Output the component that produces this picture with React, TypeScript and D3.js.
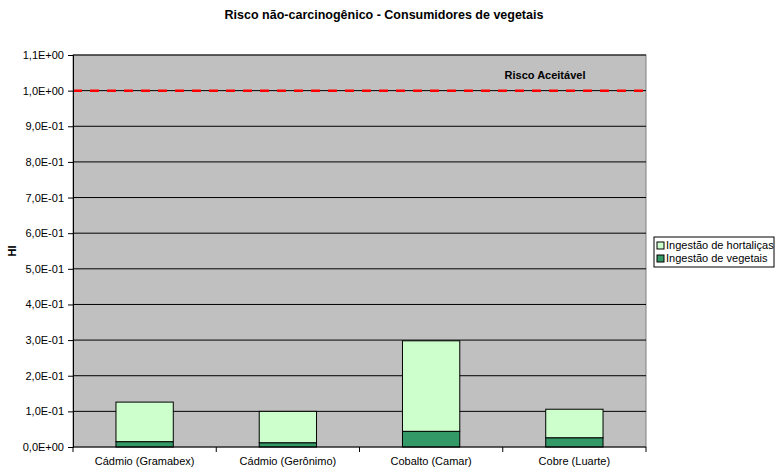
import { useRef, useEffect } from 'react'
import * as d3 from 'd3'

const categories = ['Cádmio (Gramabex)', 'Cádmio (Gerônimo)', 'Cobalto (Camar)', 'Cobre (Luarte)']
const vegetais = [0.015, 0.012, 0.044, 0.026]
const hortalicas = [0.111, 0.088, 0.254, 0.080]
const yTicks = [0, 0.1, 0.2, 0.3, 0.4, 0.5, 0.6, 0.7, 0.8, 0.9, 1.0, 1.1]
const riscoAceitavel = 1.0

function fmt(v: number) {
  if (v === 0) return '0,0E+00'
  const e = Math.floor(Math.log10(v) + 1e-9)
  const m = v / Math.pow(10, e)
  const sign = e < 0 ? '-' : '+'
  return m.toFixed(1).replace('.', ',') + 'E' + sign + String(Math.abs(e)).padStart(2, '0')
}

export default function App() {
  const ref = useRef<SVGSVGElement>(null)

  useEffect(() => {
    const svg = d3.select(ref.current)
    svg.selectAll('*').remove()
    const font = 'Liberation Sans, Arial, sans-serif'

    const left = 73, right = 646, top = 55, bottom = 447

    const x = d3.scaleBand().domain(categories).range([left, right]).paddingInner(0.6).paddingOuter(0.3)
    const y = d3.scaleLinear().domain([0, 1.1]).range([bottom, top])

    svg.append('rect').attr('width', 776).attr('height', 469).attr('fill', '#fff')

    svg.append('text')
      .attr('x', 384).attr('y', 19)
      .attr('text-anchor', 'middle')
      .attr('font-family', font).attr('font-size', 12.5).attr('font-weight', 'bold')
      .text('Risco não-carcinogênico - Consumidores de vegetais')

    svg.append('rect')
      .attr('x', left).attr('y', top)
      .attr('width', right - left).attr('height', bottom - top)
      .attr('fill', '#c0c0c0').attr('stroke', '#808080')

    // gridlines
    svg.append('g').selectAll('line').data(yTicks.slice(1)).join('line')
      .attr('x1', left).attr('x2', right)
      .attr('y1', d => y(d)).attr('y2', d => y(d))
      .attr('stroke', '#000').attr('stroke-width', 1)

    // bars
    const stack = categories.map((c, i) => ({ c, v: vegetais[i], h: hortalicas[i] }))
    svg.append('g').selectAll('rect').data(stack).join('rect')
      .attr('x', d => x(d.c)!).attr('width', x.bandwidth())
      .attr('y', d => y(d.v)).attr('height', d => y(0) - y(d.v))
      .attr('fill', '#339966').attr('stroke', '#000')
    svg.append('g').selectAll('rect').data(stack).join('rect')
      .attr('x', d => x(d.c)!).attr('width', x.bandwidth())
      .attr('y', d => y(d.v + d.h)).attr('height', d => y(d.v) - y(d.v + d.h))
      .attr('fill', '#ccffcc').attr('stroke', '#000')

    // reference line
    svg.append('line')
      .attr('x1', left).attr('x2', right)
      .attr('y1', y(riscoAceitavel)).attr('y2', y(riscoAceitavel))
      .attr('stroke', '#ff0000').attr('stroke-width', 2.5)
      .attr('stroke-dasharray', '9,8')
    svg.append('text')
      .attr('x', 545).attr('y', 79)
      .attr('text-anchor', 'middle')
      .attr('font-family', font).attr('font-size', 11).attr('font-weight', 'bold')
      .text('Risco Aceitável')

    // y axis
    const yAxis = svg.append('g')
      .attr('transform', `translate(${left},0)`)
      .call(d3.axisLeft(y).tickValues(yTicks).tickSize(5).tickFormat(d => fmt(d as number)))
    yAxis.select('.domain').attr('stroke', '#000')
    yAxis.selectAll('text').attr('font-family', font).attr('font-size', 11).attr('fill', '#000').attr('x', -9)

    // x axis
    const xAxis = svg.append('g').attr('transform', `translate(0,${bottom})`)
    xAxis.append('line').attr('x1', left).attr('x2', right).attr('stroke', '#000')
    const step = (right - left) / categories.length
    xAxis.selectAll('line.tick').data(d3.range(categories.length + 1)).join('line')
      .attr('class', 'tick')
      .attr('x1', i => left + i * step).attr('x2', i => left + i * step)
      .attr('y1', 0).attr('y2', 5).attr('stroke', '#000')
    xAxis.selectAll('text').data(categories).join('text')
      .attr('x', d => x(d)! + x.bandwidth() / 2).attr('y', 18)
      .attr('text-anchor', 'middle')
      .attr('font-family', font).attr('font-size', 11)
      .text(d => d)

    svg.append('text')
      .attr('transform', `translate(16,251) rotate(-90)`)
      .attr('text-anchor', 'middle')
      .attr('font-family', font).attr('font-size', 11).attr('font-weight', 'bold')
      .text('HI')

    // legend
    const lg = svg.append('g').attr('transform', 'translate(654,237)')
    lg.append('rect').attr('width', 120).attr('height', 30).attr('fill', '#fff').attr('stroke', '#000')
    const items = [{ n: 'Ingestão de hortaliças', c: '#ccffcc' }, { n: 'Ingestão de vegetais', c: '#339966' }]
    items.forEach((it, i) => {
      lg.append('rect').attr('x', 3).attr('y', 5 + i * 13).attr('width', 7).attr('height', 7)
        .attr('fill', it.c).attr('stroke', '#000')
      lg.append('text').attr('x', 12).attr('y', 12 + i * 13)
        .attr('font-family', font).attr('font-size', 11).text(it.n)
    })
  }, [])

  return (
    <div style={{ position: 'fixed', left: 0, top: 0 }}>
      <svg ref={ref} width={776} height={469} style={{ display: 'block' }} />
    </div>
  )
}
